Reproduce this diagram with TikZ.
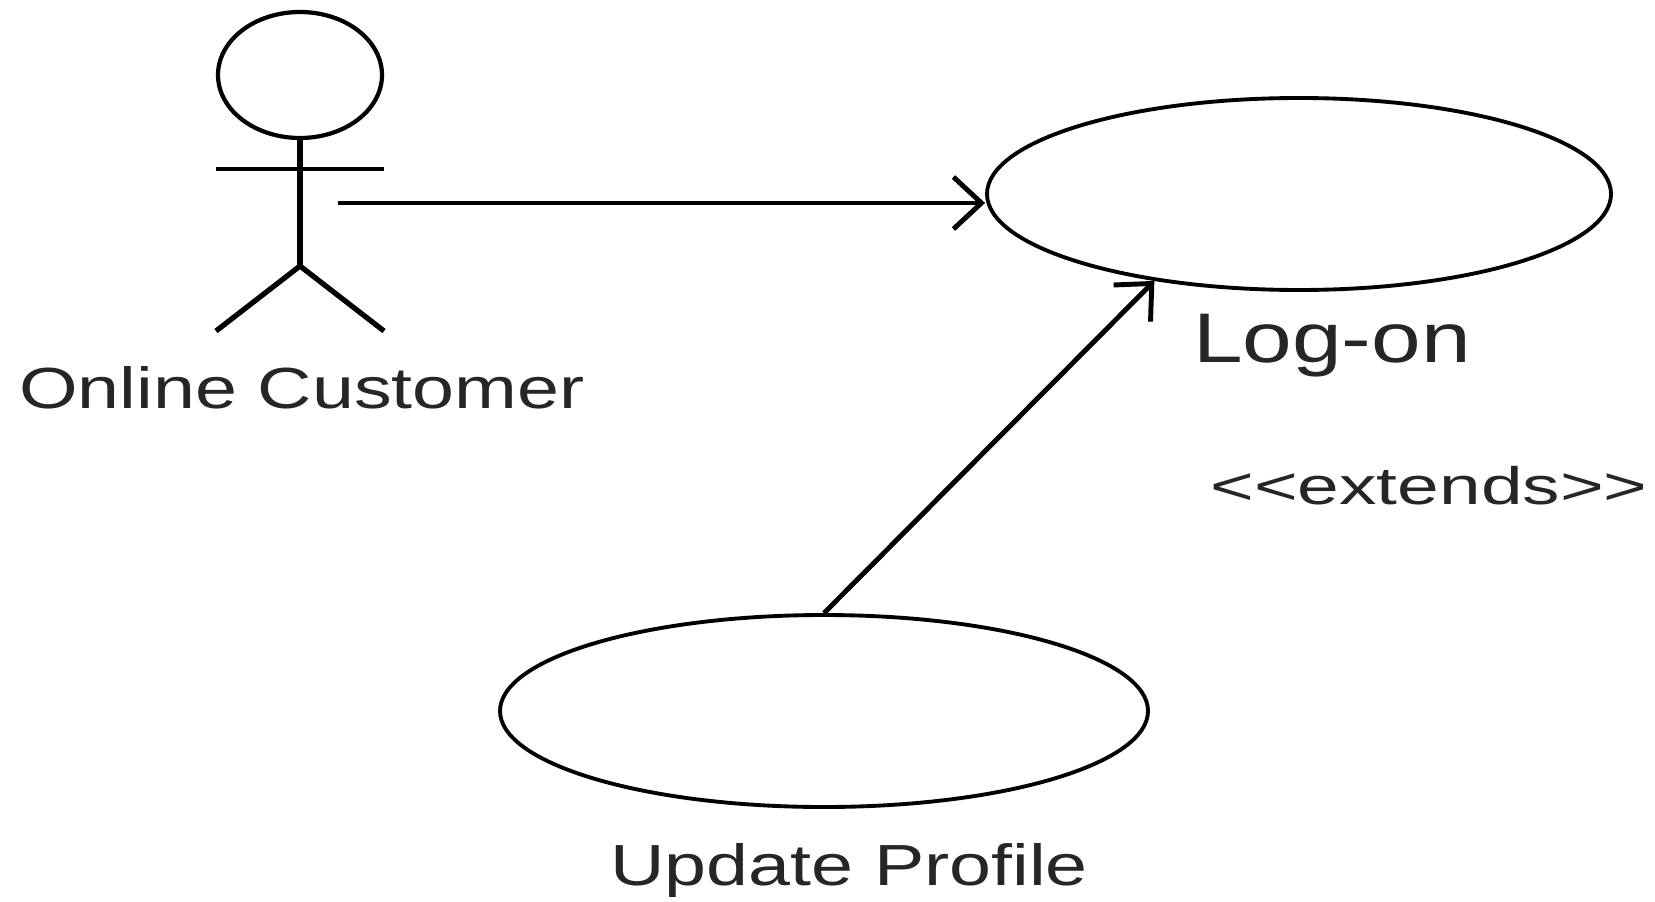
\documentclass[tikz,border=0pt]{standalone}
\usepackage{fontspec}
\setmainfont{Liberation Sans}
\usetikzlibrary{arrows.meta}
\usetikzlibrary{shapes.geometric}
\tikzset{
  usecase/.style={draw,ellipse,line width=1.1pt,minimum width=6.3cm,minimum height=1.92cm,inner sep=0pt},
  actor/.style={line width=1.2pt},
  assoc/.style={line width=1.4pt,-{Straight Barb[length=2.8mm,width=5.2mm]}},
  caption/.style={inner sep=0pt,text=black!85}
}
\begin{document}
\begin{tikzpicture}
  \useasboundingbox (0,0) rectangle (16.55,-9.01);
  \node[draw,actor,ellipse,minimum width=1.64cm,minimum height=1.26cm,inner sep=0pt] (head) at (3.00,-0.75) {};
  \coordinate (hip) at (3.00,-2.66);
  \coordinate (lefta) at (2.16,-1.69);
  \coordinate (righta) at (3.84,-1.69);
  \coordinate (leftl) at (2.16,-3.31);
  \coordinate (rightl) at (3.84,-3.31);
  \draw[actor,line width=1.5pt] (head.south) -- (hip);
  \draw[actor] (lefta) -- (righta);
  \draw[actor,line width=1.5pt] (leftl) -- (hip) -- (rightl);
  \node[usecase,minimum width=6.24cm] (logon) at (12.99,-1.94) {};
  \node[usecase,minimum width=6.48cm] (update) at (8.24,-7.11) {};
  \coordinate (from) at (3.38,-2.03);
  \draw[assoc] (from) -- (logon.west |- from);
  \draw[assoc] (update.north) -- (logon.-149);
  \node[caption,xscale=1.30,font=\fontsize{16.5}{19}\selectfont] (customer) at (3.02,-3.88) {Online Customer};
  \node[caption,xscale=1.27,font=\fontsize{20}{24}\selectfont] (logontext) at (13.32,-3.46) {Log-on};
  \node[caption,xscale=1.42,font=\fontsize{15}{18}\selectfont] (extends) at (14.29,-4.86) {<{}<extends>{}>};
  \node[caption,xscale=1.30,font=\fontsize{16.5}{19}\selectfont] (updatetext) at (8.49,-8.70) {Update Profile};
\end{tikzpicture}
\end{document}
